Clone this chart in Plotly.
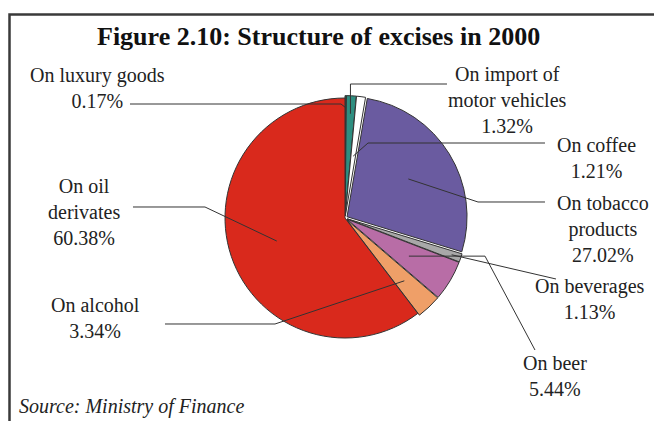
import math
import plotly.graph_objects as go

# ---- data ----
names = ["On luxury goods", "On import of motor vehicles", "On coffee",
         "On tobacco products", "On beverages", "On beer", "On alcohol",
         "On oil derivates"]
values = [0.17, 1.32, 1.21, 27.02, 1.13, 5.44, 3.34, 60.38]
label_lines = [["On luxury goods"], ["On import of", "motor vehicles"], ["On coffee"],
               ["On tobacco", "products"], ["On beverages"], ["On beer"],
               ["On alcohol"], ["On oil", "derivates"]]
colors = ["#1F6F63", "#2E8E80", "#FFFFFF", "#6A5BA0", "#A8A8A8", "#B86DA6",
          "#EF9F68", "#D9291C"]
pulls = [0.02, 0.02, 0.02, 0.02, 0.02, 0.02, 0.02, 0.0]

# page body has an 8px margin: figure is sized to fit the window exactly
OFF = 8
W, H = 662 - OFF, 421 - OFF
def X(px): return (px - OFF) / W
def Y(py): return 1 - (py - OFF) / H

# pie geometry (screen pixels)
CX, CY, R_EFF = 345, 218, 120
maxpull = max(pulls)
R = R_EFF * (1 + maxpull)

fig = go.Figure(go.Pie(
    labels=names, values=values, sort=False, direction="clockwise", rotation=0,
    marker=dict(colors=colors, line=dict(color="#333333", width=1)),
    pull=pulls, textinfo="none", showlegend=False,
    domain=dict(x=[X(CX - R), X(CX + R)], y=[Y(CY + R), Y(CY - R)]),
))

total = sum(values)
def slice_point(i, f):
    cum = sum(values[:i]) + values[i] / 2
    th = 2 * math.pi * cum / total
    off = pulls[i] * R_EFF
    px = CX + (f * R_EFF + off) * math.sin(th)
    py = CY - (f * R_EFF + off) * math.cos(th)
    return px, py

# label layout (screen px): block centers
label_pos = [(97, 88), (507, 100), (596, 158), (603, 229), (590, 299),
             (555, 376), (95, 318), (84, 212)]
leader = [
    (0.90, [(130, 104), (341, 104)]),
    (0.85, [(447, 84), None]),
    (0.50, [(545, 143), (368, 143)]),
    (0.60, [(545, 202), (478, 202)]),
    (0.92, [(556, 279)]),
    (0.60, [(535, 350), (485, None)]),
    (0.70, [(165, 324), (275, 324)]),
    (0.60, [(133, 207), (205, 207)]),
]

shapes = []
for i, (f, pts) in enumerate(leader):
    ex, ey = slice_point(i, f)
    path_pts = []
    for p in pts:
        if p is None:
            path_pts.append((ex, pts[0][1]))
        elif p[1] is None:
            path_pts.append((p[0], ey))
        else:
            path_pts.append(p)
    path_pts.append((ex, ey))
    d = "M " + " L ".join(f"{X(a):.5f},{Y(b):.5f}" for a, b in path_pts)
    shapes.append(dict(type="path", path=d, xref="paper", yref="paper",
                       line=dict(color="#333333", width=1)))

# frame
shapes.append(dict(type="rect", xref="paper", yref="paper",
                   x0=X(9.5), x1=1.2, y0=-0.2, y1=Y(14.5),
                   line=dict(color="#3A3A3A", width=2.5), fillcolor="rgba(0,0,0,0)"))

font_family = "Liberation Serif, Times New Roman, serif"
annotations = [dict(x=X(318), y=Y(37), xref="paper", yref="paper",
                    text="<b>Figure 2.10: Structure of excises in 2000</b>",
                    showarrow=False, xanchor="center", yanchor="middle",
                    font=dict(family=font_family, size=26, color="#111111"))]
for i, (lx, ly) in enumerate(label_pos):
    txt = "<br>".join(label_lines[i] + [f"{values[i]:.2f}%"])
    annotations.append(dict(x=X(lx), y=Y(ly), xref="paper", yref="paper", text=txt,
                            showarrow=False, xanchor="center", yanchor="middle",
                            align="center",
                            font=dict(family=font_family, size=20, color="#222222")))
annotations.append(dict(x=X(17), y=Y(406), xref="paper", yref="paper",
                        text="<i>Source: Ministry of Finance</i>", showarrow=False,
                        xanchor="left", yanchor="middle",
                        font=dict(family=font_family, size=20, color="#222222")))

fig.update_layout(width=W, height=H, autosize=False,
                  margin=dict(l=0, r=0, t=0, b=0),
                  paper_bgcolor="white", plot_bgcolor="white",
                  shapes=shapes, annotations=annotations)

fig.write_html("out.html")
